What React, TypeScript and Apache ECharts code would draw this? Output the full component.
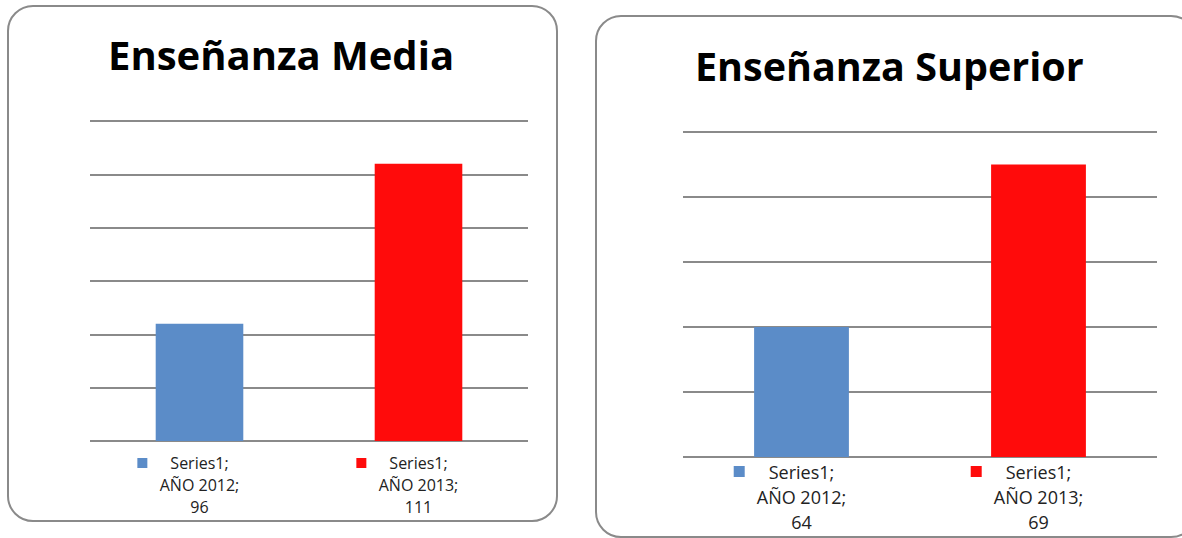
import React, { useEffect, useRef } from "react";
import * as echarts from "echarts";

const seriesName = "Series1";
const categories = ["AÑO 2012", "AÑO 2013"];
const mediaValues = [96, 111];
const superiorValues = [64, 69];
const titles = ["Enseñanza Media", "Enseñanza Superior"];
const mediaAxis = { min: 85, max: 115, interval: 5 };
const superiorAxis = { min: 60, max: 70, interval: 2 };

const barColors = ["#5b8cc8", "#ff0b0b"];
const gridColor = "#8a8a8a";
const FONT = "'Open Sans', 'DejaVu Sans', sans-serif";

function makeLabel(values: number[], i: number) {
  return `{sq${i}|}{gap|}${seriesName};{pad|}\n${categories[i]};\n${values[i]}`;
}

function richFor(size: number, gap: number) {
  return {
    sq0: { width: size, height: size, backgroundColor: barColors[0] },
    sq1: { width: size, height: size, backgroundColor: barColors[1] },
    gap: { width: gap },
    pad: { width: size + gap },
  };
}

export default function App() {
  const ref = useRef<HTMLDivElement>(null);
  useEffect(() => {
    document.body.style.margin = "0";
    if (!ref.current) return;
    const chart = echarts.init(ref.current, null, { renderer: "svg" });
    const yAxisBase = {
      type: "value",
      axisLabel: { show: false },
      axisLine: { show: false },
      axisTick: { show: false },
      splitLine: { show: true, lineStyle: { color: gridColor, width: 2 } },
    };
    const xAxisBase = {
      type: "category",
      data: categories,
      axisLine: { show: false },
      axisTick: { show: false },
      splitLine: { show: false },
    };
    chart.setOption({
      animation: false,
      backgroundColor: "#ffffff",
      title: [
        {
          text: titles[0],
          left: 108,
          top: 34,
          padding: 0,
          textStyle: { fontFamily: FONT, fontWeight: "bold", fontSize: 40, color: "#000" },
        },
        {
          text: titles[1],
          left: 695,
          top: 46,
          padding: 0,
          textStyle: { fontFamily: FONT, fontWeight: "bold", fontSize: 39.5, color: "#000" },
        },
      ],
      graphic: [
        {
          type: "rect",
          z: -1,
          shape: { x: 8, y: 6, width: 549, height: 515, r: 25 },
          style: { fill: "none", stroke: gridColor, lineWidth: 2 },
        },
        {
          type: "rect",
          z: -1,
          shape: { x: 596, y: 16, width: 600, height: 521, r: 25 },
          style: { fill: "none", stroke: gridColor, lineWidth: 2 },
        },
      ],
      grid: [
        { left: 90, top: 121, width: 438, height: 320 },
        { left: 683, top: 132, width: 474, height: 325 },
      ],
      xAxis: [
        {
          ...xAxisBase,
          gridIndex: 0,
          axisLabel: {
            margin: 11,
            interval: 0,
            fontFamily: FONT,
            fontSize: 16,
            lineHeight: 22,
            color: "#222",
            formatter: (_v: string, i: number) => makeLabel(mediaValues, i),
            rich: richFor(10, 23),
          },
        },
        {
          ...xAxisBase,
          gridIndex: 1,
          axisLabel: {
            margin: 2,
            interval: 0,
            fontFamily: FONT,
            fontSize: 18,
            lineHeight: 25,
            color: "#222",
            formatter: (_v: string, i: number) => makeLabel(superiorValues, i),
            rich: richFor(11, 24),
          },
        },
      ],
      yAxis: [
        { ...yAxisBase, gridIndex: 0, ...mediaAxis },
        { ...yAxisBase, gridIndex: 1, ...superiorAxis },
      ],
      series: [
        {
          type: "bar",
          name: titles[0],
          xAxisIndex: 0,
          yAxisIndex: 0,
          barWidth: "40%",
          data: mediaValues.map((v, i) => ({ value: v, itemStyle: { color: barColors[i] } })),
        },
        {
          type: "bar",
          name: titles[1],
          xAxisIndex: 1,
          yAxisIndex: 1,
          barWidth: "40%",
          data: superiorValues.map((v, i) => ({ value: v, itemStyle: { color: barColors[i] } })),
        },
      ],
    });
    return () => chart.dispose();
  }, []);
  return <div ref={ref} style={{ width: 1182, height: 538 }} />;
}
